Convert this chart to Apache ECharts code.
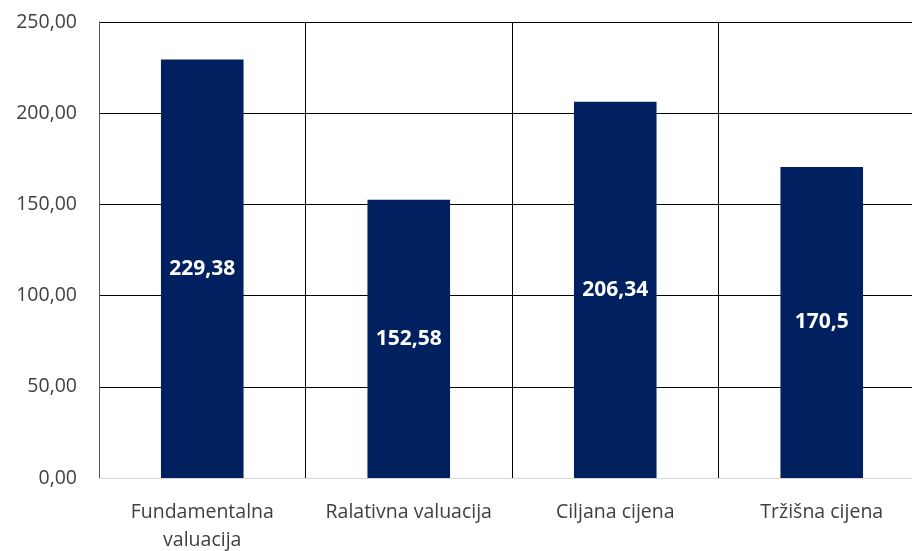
<!DOCTYPE html>
<html><head><meta charset="utf-8">
<script src="https://cdn.jsdelivr.net/npm/echarts@6/dist/echarts.min.js"></script>
<style>html,body{margin:0;padding:0;background:#fff}#c{width:912px;height:551px}</style>
</head><body><div id="c"></div>
<script>
const categories = ["Fundamentalna\nvaluacija", "Ralativna valuacija", "Ciljana cijena", "Tržišna cijena"];
const values = [229.38, 152.58, 206.34, 170.5];
const valueLabels = ["229,38", "152,58", "206,34", "170,5"];
const yTicks = [0, 50, 100, 150, 200, 250];

const chart = echarts.init(document.getElementById('c'));
const fmt = v => v.toFixed(2).replace('.', ',');
chart.setOption({
  animation: false,
  grid: {left: 99, width: 826, top: 22, bottom: 73, outerBoundsMode: 'none', containLabel: false},
  xAxis: {
    type: 'category', data: categories,
    axisTick: {show: false},
    axisLine: {show: true, lineStyle: {color: '#d9d9d9', width: 1}},
    splitLine: {show: true, lineStyle: {color: '#000', width: 1}},
    axisLabel: {color: '#404040', fontSize: 19.5, fontFamily: 'Open Sans', margin: 20, lineHeight: 28, interval: 0}
  },
  yAxis: {
    type: 'value', min: yTicks[0], max: yTicks[yTicks.length - 1], interval: 50,
    axisLine: {show: true, lineStyle: {color: '#595959', width: 1}},
    axisTick: {show: false},
    splitLine: {lineStyle: {color: '#000', width: 1}},
    axisLabel: {color: '#404040', fontSize: 19.5, fontFamily: 'Open Sans', margin: 22, formatter: fmt}
  },
  series: [{
    type: 'bar', data: values, barWidth: '40%',
    itemStyle: {color: '#002060'},
    label: {show: true, position: 'inside', color: '#fff', fontWeight: 'bold', fontSize: 21, fontFamily: 'Open Sans',
      formatter: p => valueLabels[p.dataIndex]}
  }]
});
</script></body></html>
